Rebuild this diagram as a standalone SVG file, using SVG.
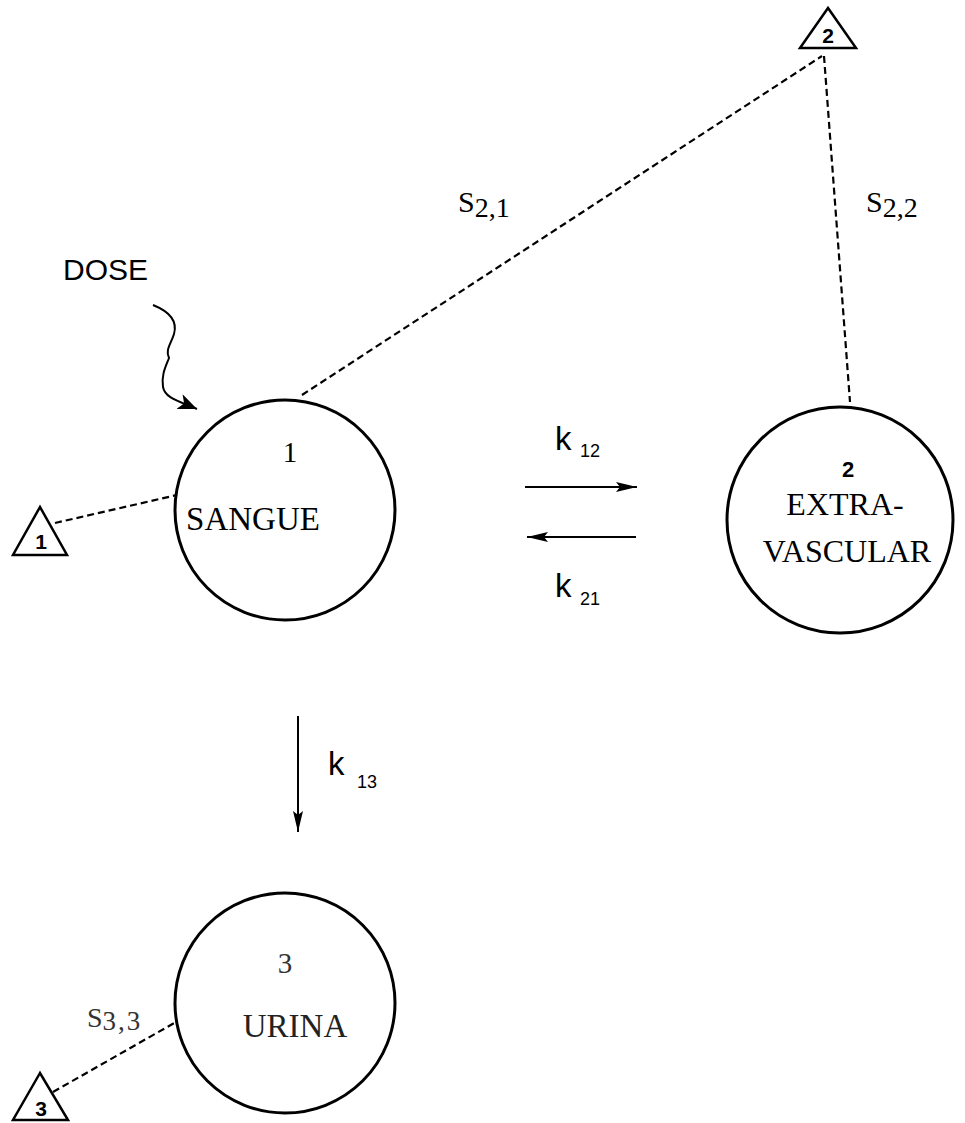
<svg xmlns="http://www.w3.org/2000/svg" width="965" height="1123" viewBox="0 0 965 1123">
<style>
.node circle{fill:none;stroke:#000;stroke-width:3}
.tri polygon{fill:#fff;stroke:#000;stroke-width:2.5;stroke-linejoin:miter}
.tri text{font-family:"Liberation Sans",Arial,sans-serif;font-weight:bold;font-size:21px;text-anchor:middle}
.dash{fill:none;stroke:#000;stroke-width:2.2;stroke-dasharray:7 4}
.arr{fill:none;stroke:#000;stroke-width:2}
.serif{font-family:"Liberation Serif","Times New Roman",serif}
.sans{font-family:"Liberation Sans",Arial,sans-serif}
.lbl{font-size:33px;text-anchor:middle}
</style>
<defs>
<marker id="ah" markerWidth="22" markerHeight="12" refX="21" refY="6" orient="auto" markerUnits="userSpaceOnUse">
<path d="M0,1 L21,6 L0,11 L4,6 Z" fill="#000"/>
</marker>
<marker id="ahd" markerWidth="20" markerHeight="16" refX="19" refY="8" orient="auto" markerUnits="userSpaceOnUse">
<path d="M0,0 L19,8 L0,16 L5,8 Z" fill="#000"/>
</marker>
</defs>

<g id="connectors">
<line class="dash" x1="302" y1="395" x2="822" y2="56"/>
<line class="dash" x1="824" y1="56" x2="850" y2="402"/>
<line class="dash" x1="55" y1="523" x2="177" y2="495"/>
<line class="dash" x1="53" y1="1092" x2="176" y2="1022"/>
<line class="arr" x1="525" y1="487" x2="637" y2="487" marker-end="url(#ah)"/>
<line class="arr" x1="636" y1="537" x2="527" y2="537" marker-end="url(#ah)"/>
<line class="arr" x1="298" y1="716" x2="298" y2="832" marker-end="url(#ah)"/>
<path class="arr" stroke-width="2.5" d="M153,305 C168,311 178,320 174,334 C171,344 165,350 169,358 C166,366 161,375 163,387 C165,398 178,401 197,409" marker-end="url(#ahd)"/>
</g>

<g id="node1" class="node">
<circle cx="285" cy="510" r="110"/>
<text class="serif" x="290" y="462" font-size="29" text-anchor="middle">1</text>
<text class="serif lbl" x="253" y="530">SANGUE</text>
</g>

<g id="node2" class="node">
<circle cx="840" cy="520" r="113"/>
<text class="sans" x="848" y="477" font-size="22" font-weight="bold" text-anchor="middle">2</text>
<text class="serif" x="845" y="515" font-size="32" text-anchor="middle">EXTRA-</text>
<text class="serif" x="847" y="562" font-size="32" text-anchor="middle">VASCULAR</text>
</g>

<g id="node3" class="node">
<circle cx="285" cy="1003" r="110"/>
<text class="serif" x="285" y="973" font-size="29" text-anchor="middle" fill="#333">3</text>
<text class="serif lbl" x="295" y="1037" fill="#222">URINA</text>
</g>

<g id="sensor1" class="tri">
<polygon points="40,507 13,555 67,555"/>
<text x="41" y="549">1</text>
</g>
<g id="sensor2" class="tri">
<polygon points="828,8 800,48 856,48"/>
<text x="828" y="43">2</text>
</g>
<g id="sensor3" class="tri">
<polygon points="40,1073 13,1120 68,1120"/>
<text x="41" y="1116">3</text>
</g>

<g id="labels">
<text class="sans" x="63" y="280" font-size="30">DOSE</text>
<text class="serif" x="458" y="212" font-size="30">S<tspan font-size="28" dy="5">2,1</tspan></text>
<text class="serif" x="866" y="212" font-size="30">S<tspan font-size="28" dy="5">2,2</tspan></text>
<text class="serif" x="87" y="1027" font-size="28" fill="#333">S<tspan font-size="27" dy="3" letter-spacing="2">3,3</tspan></text>
<text class="sans" font-size="33"><tspan x="555" y="450">k</tspan><tspan x="580" y="457" font-size="18">12</tspan></text>
<text class="sans" font-size="33"><tspan x="555" y="597">k</tspan><tspan x="580" y="605" font-size="18">21</tspan></text>
<text class="sans" font-size="33"><tspan x="328" y="775">k</tspan><tspan x="357" y="788" font-size="18">13</tspan></text>
</g>
</svg>
